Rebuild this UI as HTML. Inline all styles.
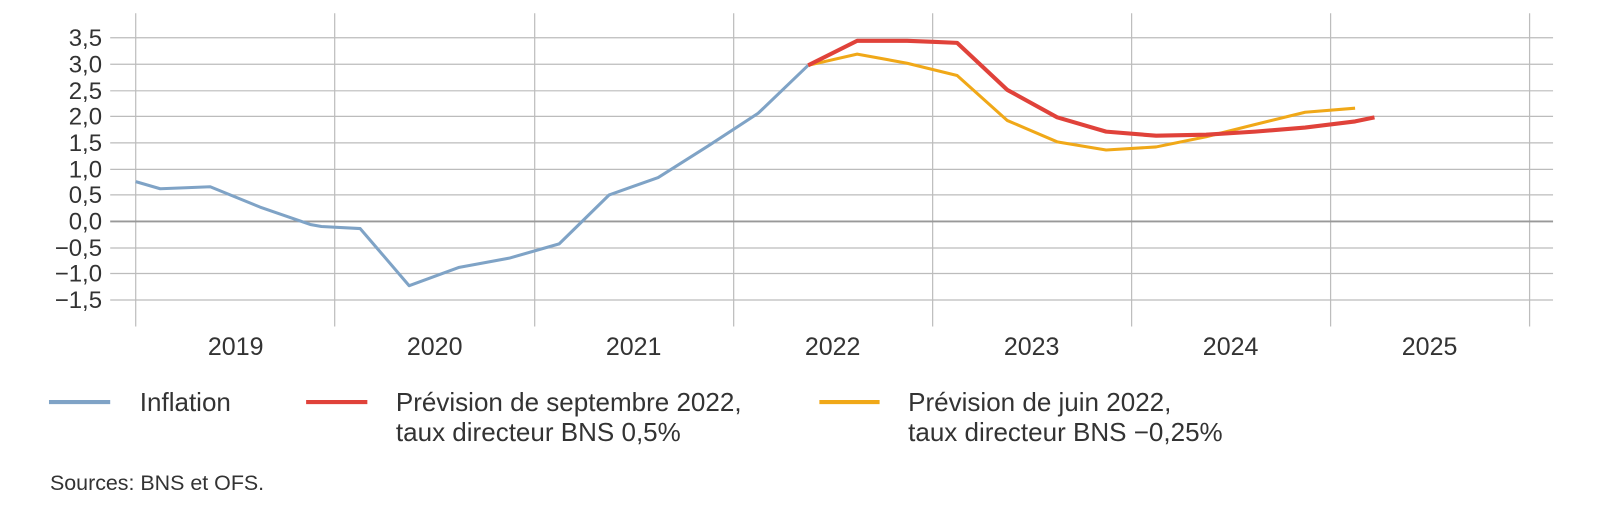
<!DOCTYPE html>
<html><head><meta charset="utf-8"><style>
body{margin:0;background:#fff;width:1600px;height:509px;overflow:hidden}
svg{display:block}
text{font-family:"Liberation Sans",sans-serif;fill:#333}
</style></head><body>
<svg width="1600" height="509" viewBox="0 0 1600 509">
<g transform="scale(1.0204)">
<g stroke="#bdbdbd" stroke-width="1.2">
<line x1="133" y1="13" x2="133" y2="320"/><line x1="328" y1="13" x2="328" y2="320"/><line x1="524" y1="13" x2="524" y2="320"/><line x1="719" y1="13" x2="719" y2="320"/><line x1="914" y1="13" x2="914" y2="320"/><line x1="1109" y1="13" x2="1109" y2="320"/><line x1="1304" y1="13" x2="1304" y2="320"/><line x1="1499" y1="13" x2="1499" y2="320"/>
</g>
<g stroke="#bcbcbc" stroke-width="1.2">
<line x1="108" y1="37" x2="1522" y2="37"/><line x1="108" y1="63" x2="1522" y2="63"/><line x1="108" y1="89" x2="1522" y2="89"/><line x1="108" y1="114" x2="1522" y2="114"/><line x1="108" y1="140" x2="1522" y2="140"/><line x1="108" y1="166" x2="1522" y2="166"/><line x1="108" y1="191" x2="1522" y2="191"/><line x1="108" y1="243" x2="1522" y2="243"/><line x1="108" y1="268" x2="1522" y2="268"/><line x1="108" y1="294" x2="1522" y2="294"/>
</g>
<line x1="108" y1="217" x2="1522" y2="217" stroke="#999" stroke-width="1.8"/>
<g font-size="23.5" text-anchor="end">
<text x="100" y="45">3,5</text><text x="100" y="71">3,0</text><text x="100" y="97">2,5</text><text x="100" y="122">2,0</text><text x="100" y="148">1,5</text><text x="100" y="174">1,0</text><text x="100" y="199">0,5</text><text x="100" y="225">0,0</text><text x="100" y="251">−0,5</text><text x="100" y="276">−1,0</text><text x="100" y="302">−1,5</text>
</g>
<g font-size="24.5" text-anchor="middle">
<text x="231" y="348">2019</text><text x="426" y="348">2020</text><text x="621" y="348">2021</text><text x="816" y="348">2022</text><text x="1011" y="348">2023</text><text x="1206" y="348">2024</text><text x="1401" y="348">2025</text>
</g>
<polyline fill="none" stroke="#7fa3c6" stroke-width="3" stroke-linejoin="round" points="133,178 157,185 182,184 206,183 255,203 304,220 315,222 353,224 401,280 450,262 499,253 548,239 597,191 645,174 694,143 743,111 792,64"/>
<polyline fill="none" stroke="#f0a818" stroke-width="3" stroke-linejoin="round" points="792,64 840,53 889,62 938,74 987,118 1036,139 1084,147 1133,144 1182,134 1230,122 1279,110 1328,106"/>
<polyline fill="none" stroke="#e0423a" stroke-width="4" stroke-linejoin="round" points="792,64 840,40 889,40 914,41 938,42 987,88 1036,115 1084,129 1133,133 1182,132 1230,129 1279,125 1328,119 1347,115"/>
<line x1="48" y1="394" x2="108" y2="394" stroke="#7fa3c6" stroke-width="4"/>
<line x1="300" y1="394" x2="360" y2="394" stroke="#e0423a" stroke-width="4"/>
<line x1="803" y1="394" x2="862" y2="394" stroke="#f0a818" stroke-width="4"/>
<g font-size="25.5">
<text x="137" y="403">Inflation</text>
<text x="388" y="403">Prévision de septembre 2022,</text>
<text x="388" y="432">taux directeur BNS 0,5%</text>
<text x="890" y="403">Prévision de juin 2022,</text>
<text x="890" y="432">taux directeur BNS −0,25%</text>
</g>
<text x="49" y="480" font-size="21" fill="#444">Sources: BNS et OFS.</text>
</g>
</svg>
</body></html>
